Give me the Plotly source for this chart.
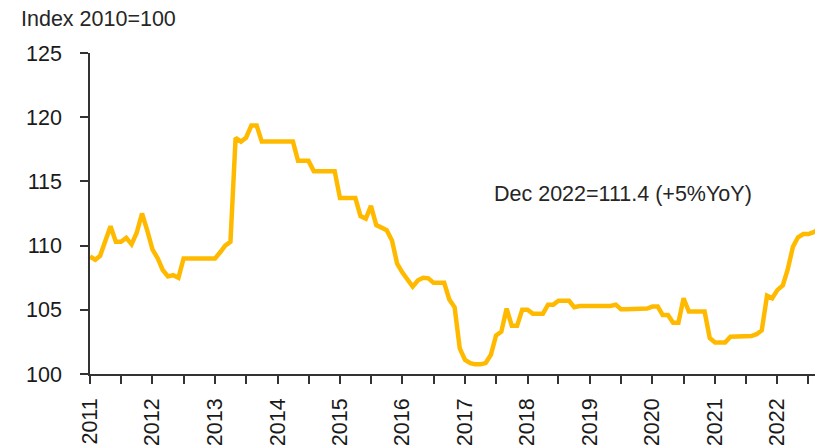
import pandas as pd
import plotly.graph_objects as go

# monthly index, 2010=100 (Jan 2011 onwards)
idx_2011 = [109.15, 108.9, 109.2, 110.3, 111.5, 110.3, 110.3, 110.6, 110.1, 111.0, 112.5, 111.2]
idx_2012 = [109.7, 109.0, 108.1, 107.6, 107.7, 107.5, 109.0, 109.0, 109.0, 109.0, 109.0, 109.0]
idx_2013 = [109.0, 109.5, 110.0, 110.3, 118.4, 118.1, 118.4, 119.35, 119.35, 118.1, 118.1, 118.1]
idx_2014 = [118.1, 118.1, 118.1, 118.1, 116.6, 116.6, 116.6, 115.8, 115.8, 115.8, 115.8, 115.8]
idx_2015 = [113.7, 113.7, 113.7, 113.7, 112.3, 112.1, 113.1, 111.6, 111.4, 111.2, 110.4, 108.6]
idx_2016 = [107.9, 107.25, 106.8, 107.3, 107.5, 107.45, 107.1, 107.1, 107.1, 105.8, 105.2, 102.0]
idx_2017 = [101.1, 100.85, 100.75, 100.75, 100.85, 101.5, 103.0, 103.3, 105.1, 103.75, 103.75, 105.0]
idx_2018 = [105.0, 104.7, 104.7, 104.7, 105.4, 105.4, 105.7, 105.7, 105.7, 105.2, 105.3, 105.3]
idx_2019 = [105.3, 105.3, 105.3, 105.3, 105.3, 105.4, 105.05, 105.05, 105.05, 105.05, 105.05, 105.1]
idx_2020 = [105.25, 105.25, 104.6, 104.6, 104.0, 104.0, 105.9, 104.86, 104.86, 104.86, 104.86, 102.8]
idx_2021 = [102.45, 102.45, 102.45, 102.9, 102.9, 102.9, 102.9, 102.95, 103.1, 103.4, 106.1, 105.9]
idx_2022 = [106.55, 106.9, 108.1, 109.9, 110.65, 110.9, 110.9, 111.05, 111.3, 111.4]

index_values = (idx_2011 + idx_2012 + idx_2013 + idx_2014 + idx_2015 + idx_2016
                + idx_2017 + idx_2018 + idx_2019 + idx_2020 + idx_2021 + idx_2022)
months = pd.date_range("2011-01-01", periods=len(index_values), freq="MS")

y_ticks = [100, 105, 110, 115, 120, 125]
note = "Dec 2022=111.4 (+5%YoY)"

font_name = "Liberation Sans, Arial, sans-serif"
txt_size = 21.5
axis_col = "#333333"

fig = go.Figure()
fig.add_trace(go.Scatter(
    x=months, y=index_values, mode="lines",
    line=dict(color="#FFBA00", width=4.5),
    showlegend=False,
))

fig.add_annotation(
    x="2017-06-07", y=114.0, text=note, showarrow=False,
    xanchor="left", yanchor="middle",
    font=dict(family=font_name, size=txt_size, color="#262626"),
)

# page body keeps an 8px margin, so the figure is sized to the visible area
fig.update_layout(
    width=815, height=437,
    margin=dict(l=82, r=0, t=45, b=71),
    paper_bgcolor="white", plot_bgcolor="white",
    font=dict(family=font_name, size=txt_size, color="#1a1a1a"),
    title=dict(text="Index 2010=100", xref="container", yref="container",
               x=13/815, y=1-10/437, xanchor="left", yanchor="middle",
               font=dict(family=font_name, size=txt_size, color="#262626")),
)

fig.update_yaxes(
    range=[100, 125], tickvals=y_ticks, automargin=False,
    showgrid=False, zeroline=False,
    showline=True, linecolor=axis_col, linewidth=1.5,
    ticks="outside", ticklen=8, tickcolor=axis_col, tickwidth=1.5,
    ticklabelstandoff=14,
)
fig.update_xaxes(
    type="date", range=["2011-01-01", "2022-09-24"], automargin=False,
    dtick="M12", tickformat="%Y", tickangle=-90,
    showgrid=False, zeroline=False,
    showline=True, linecolor=axis_col, linewidth=1.5,
    ticks="outside", ticklen=8, tickcolor=axis_col, tickwidth=1.5,
    minor=dict(dtick="M6", ticks="outside", ticklen=8, tickcolor=axis_col, tickwidth=1.5, showgrid=False),
    ticklabelstandoff=6,
)

fig.write_html("out.html")
